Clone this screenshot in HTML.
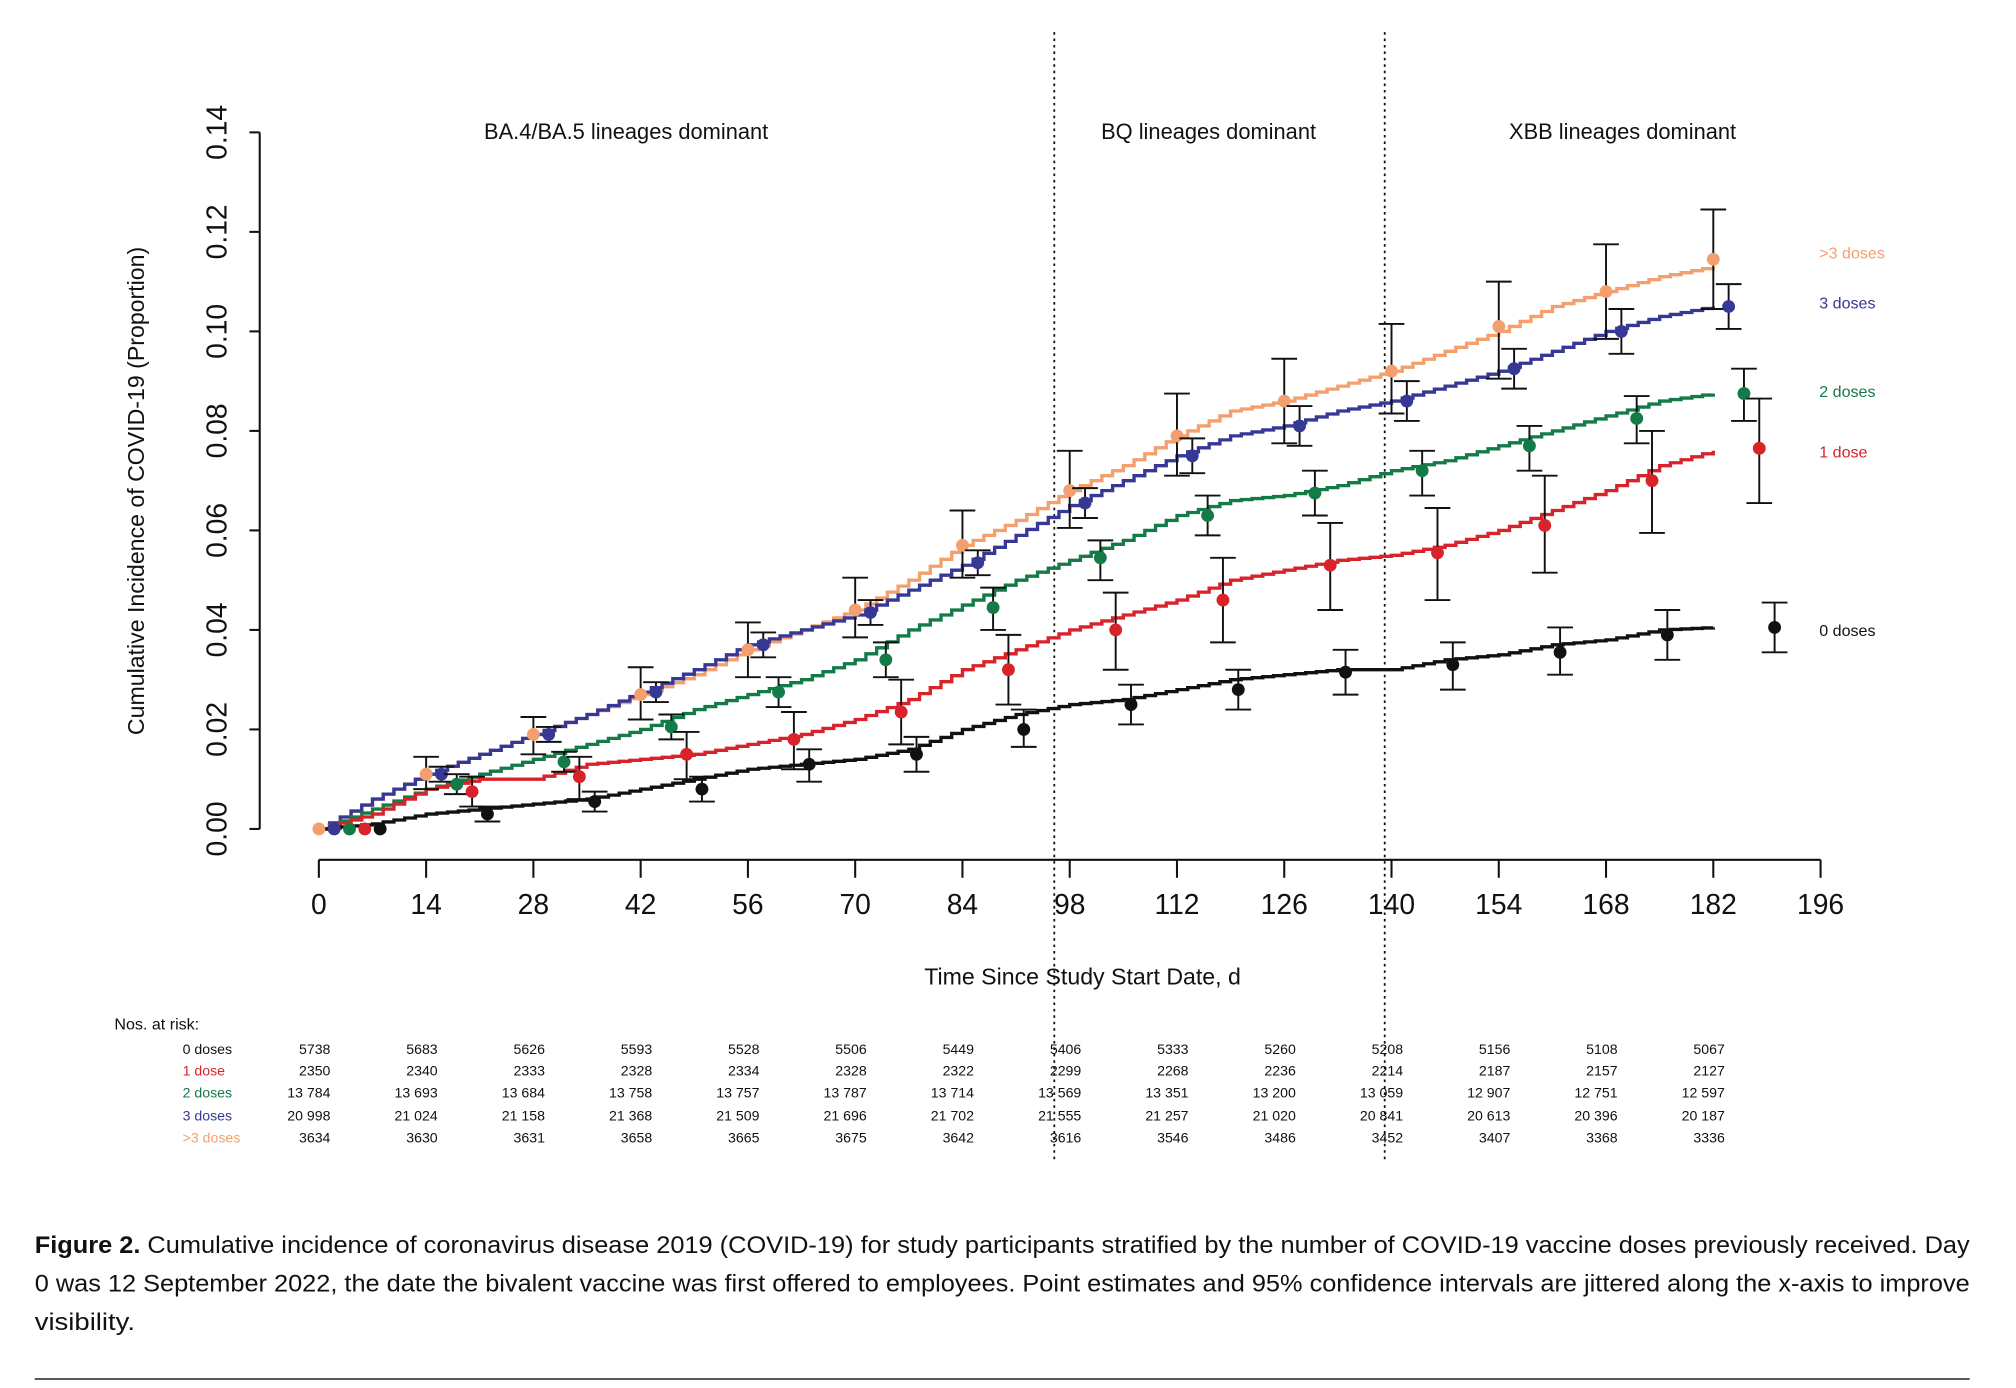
<!DOCTYPE html>
<html><head><meta charset="utf-8"><style>
html,body{margin:0;padding:0;background:#fff;}
svg{display:block;}
text{font-family:"Liberation Sans",sans-serif;}
.cap{font-family:"Liberation Sans Narrow","Liberation Sans",sans-serif;}
</style></head><body>
<svg id="chart" width="2016" height="1388" viewBox="0 0 1568 1080" preserveAspectRatio="none" xmlns="http://www.w3.org/2000/svg">
<rect x="0" y="0" width="1568" height="1080" fill="#fff"/>
<g id="axes"></g>
<g id="series"></g>
<g id="points"></g>
<g id="risk"></g>
<g class="cap" font-size="19" fill="#111">
<text class="cap" x="27" y="975" textLength="1505" lengthAdjust="spacingAndGlyphs"><tspan font-weight="bold">Figure 2.</tspan>    Cumulative incidence of coronavirus disease 2019 (COVID-19) for study participants stratified by the number of COVID-19 vaccine doses previously received. Day</text>
<text class="cap" x="27" y="1005" textLength="1505" lengthAdjust="spacingAndGlyphs">0 was 12 September 2022, the date the bivalent vaccine was first offered to employees. Point estimates and 95% confidence intervals are jittered along the x-axis to improve</text>
<text class="cap" x="27" y="1035" textLength="78" lengthAdjust="spacingAndGlyphs">visibility.</text>
</g>
<line x1="27" y1="1073" x2="1532" y2="1073" stroke="#222" stroke-width="1.2"/>
</svg>
<script>
const yTicks=[0,0.02,0.04,0.06,0.08,0.10,0.12,0.14];
const yTickLabels=["0.00","0.02","0.04","0.06","0.08","0.10","0.12","0.14"];
const xTicks=[0,14,28,42,56,70,84,98,112,126,140,154,168,182,196];
const curveDays=[0,7,14,21,28,35,42,49,56,63,70,77,84,91,98,105,112,119,126,133,140,147,154,161,168,175,182];
const curveOrange=[0,0.006,0.011,0.015,0.019,0.023,0.027,0.031,0.036,0.040,0.044,0.050,0.057,0.062,0.068,0.073,0.079,0.084,0.086,0.089,0.092,0.096,0.100,0.105,0.108,0.111,0.113];
const curveBlue=[0,0.006,0.011,0.015,0.019,0.023,0.0275,0.032,0.037,0.040,0.043,0.048,0.053,0.059,0.065,0.070,0.075,0.079,0.081,0.084,0.086,0.089,0.092,0.096,0.100,0.103,0.105];
const curveGreen=[0,0.004,0.008,0.011,0.014,0.017,0.020,0.024,0.027,0.030,0.034,0.040,0.045,0.050,0.054,0.058,0.063,0.066,0.067,0.069,0.072,0.074,0.077,0.080,0.083,0.086,0.0875];
const curveRed=[0,0.003,0.008,0.010,0.010,0.013,0.014,0.015,0.017,0.019,0.022,0.026,0.032,0.036,0.040,0.043,0.046,0.050,0.052,0.054,0.055,0.057,0.060,0.064,0.068,0.073,0.076];
const curveBlack=[0,0.001,0.003,0.004,0.005,0.006,0.008,0.010,0.012,0.013,0.014,0.016,0.020,0.023,0.025,0.026,0.028,0.030,0.031,0.032,0.032,0.034,0.035,0.037,0.038,0.040,0.0405];
const pointDays=[0,14,28,42,56,70,84,98,112,126,140,154,168,182];
const ptOrange=[0,0.011,0.019,0.027,0.036,0.044,0.057,0.068,0.079,0.086,0.092,0.101,0.108,0.1145];
const loOrange=[0,0.008,0.015,0.022,0.0305,0.0385,0.0505,0.0605,0.071,0.0775,0.0835,0.0905,0.0985,0.1045];
const hiOrange=[0,0.0145,0.0225,0.0325,0.0415,0.0505,0.064,0.076,0.0875,0.0945,0.1015,0.110,0.1175,0.1245];
const ptBlue=[0,0.011,0.019,0.0275,0.037,0.0435,0.0535,0.0655,0.075,0.081,0.086,0.0925,0.100,0.105];
const loBlue=[0,0.0095,0.0175,0.0255,0.0345,0.041,0.051,0.0625,0.0715,0.077,0.082,0.0885,0.0955,0.1005];
const hiBlue=[0,0.0125,0.0205,0.0295,0.0395,0.046,0.056,0.0685,0.0785,0.085,0.090,0.0965,0.1045,0.1095];
const ptGreen=[0,0.009,0.0135,0.0205,0.0275,0.034,0.0445,0.0545,0.063,0.0675,0.072,0.077,0.0825,0.0875];
const loGreen=[0,0.007,0.0115,0.018,0.0245,0.0305,0.040,0.050,0.059,0.063,0.067,0.072,0.0775,0.082];
const hiGreen=[0,0.011,0.0155,0.023,0.0305,0.0375,0.0485,0.058,0.067,0.072,0.076,0.081,0.087,0.0925];
const ptRed=[0,0.0075,0.0105,0.015,0.018,0.0235,0.032,0.040,0.046,0.053,0.0555,0.061,0.070,0.0765];
const loRed=[0,0.0045,0.006,0.010,0.012,0.017,0.025,0.032,0.0375,0.044,0.046,0.0515,0.0595,0.0655];
const hiRed=[0,0.0105,0.0145,0.0195,0.0235,0.030,0.039,0.0475,0.0545,0.0615,0.0645,0.071,0.080,0.0865];
const ptBlack=[0,0.003,0.0055,0.008,0.013,0.015,0.020,0.025,0.028,0.0315,0.033,0.0355,0.039,0.0405];
const loBlack=[0,0.0015,0.0035,0.0055,0.0095,0.0115,0.0165,0.021,0.024,0.027,0.028,0.031,0.034,0.0355];
const hiBlack=[0,0.0045,0.0075,0.0105,0.016,0.0185,0.024,0.029,0.032,0.036,0.0375,0.0405,0.044,0.0455];
const groupNames=["0 doses","1 dose","2 doses","3 doses",">3 doses"];
const riskCols=[0,14,28,42,56,70,84,98,112,126,140,154,168,182];
const risk0=["5738","5683","5626","5593","5528","5506","5449","5406","5333","5260","5208","5156","5108","5067"];
const risk1=["2350","2340","2333","2328","2334","2328","2322","2299","2268","2236","2214","2187","2157","2127"];
const risk2=["13 784","13 693","13 684","13 758","13 757","13 787","13 714","13 569","13 351","13 200","13 059","12 907","12 751","12 597"];
const risk3=["20 998","21 024","21 158","21 368","21 509","21 696","21 702","21 555","21 257","21 020","20 841","20 613","20 396","20 187"];
const risk4=["3634","3630","3631","3658","3665","3675","3642","3616","3546","3486","3452","3407","3368","3336"];

const NS="http://www.w3.org/2000/svg";
const X=d=>248+d*(1416-248)/196;
const Y=v=>645-v*(645-103)/0.14;
function mk(tag,attrs,parent,txt){const e=document.createElementNS(NS,tag);for(const k in attrs)e.setAttribute(k,attrs[k]);if(txt!==undefined)e.textContent=txt;parent.appendChild(e);return e;}
const axes=document.getElementById('axes'),series=document.getElementById('series'),pts=document.getElementById('points'),risk=document.getElementById('risk');

let ya=mk('line',{x1:202,y1:Y(0),x2:202,y2:Y(0.14),stroke:'#111','stroke-width':1.6},axes);


yTicks.forEach((t,i)=>{
 let tk=mk('line',{x1:194,y1:Y(t),x2:202,y2:Y(t),stroke:'#111','stroke-width':1.6},axes);
 
 
 let lb=mk('text',{x:0,y:0,transform:`translate(176,${Y(t)}) rotate(-90)`,'text-anchor':'middle','font-size':22,fill:'#111'},axes,yTickLabels[i]);
 
 
});
let yt=mk('text',{x:0,y:0,transform:'translate(112,382) rotate(-90)','text-anchor':'middle','font-size':18,fill:'#111'},axes,'Cumulative Incidence of COVID-19 (Proportion)');


let xa=mk('line',{x1:X(0),y1:669,x2:X(196),y2:669,stroke:'#111','stroke-width':1.6},axes);


xTicks.forEach(t=>{
 let tk=mk('line',{x1:X(t),y1:669,x2:X(t),y2:683,stroke:'#111','stroke-width':1.6},axes);
 
 
 let lb=mk('text',{x:X(t),y:711,'text-anchor':'middle','font-size':22,fill:'#111'},axes,String(t));
 
 
});
let xt=mk('text',{x:842,y:766,'text-anchor':'middle','font-size':18,fill:'#111'},axes,'Time Since Study Start Date, d');


[820,1077].forEach(x=>{
 let l=mk('line',{x1:x,y1:25,x2:x,y2:902,stroke:'#111','stroke-width':1.4,'stroke-dasharray':'2,3'},axes);
 
 
});
[["BA.4/BA.5 lineages dominant",487],["BQ lineages dominant",940],["XBB lineages dominant",1262]].forEach(p=>{
 let t=mk('text',{x:p[1],y:108,'text-anchor':'middle','font-size':17,fill:'#111'},axes,p[0]);
 
 
});

const colors=['#111','#d8232a','#147a46','#363895','#f4a06e'];
const curves=[curveBlack,curveRed,curveGreen,curveBlue,curveOrange];
const ptsArr=[ptBlack,ptRed,ptGreen,ptBlue,ptOrange];
const loArr=[loBlack,loRed,loGreen,loBlue,loOrange];
const hiArr=[hiBlack,hiRed,hiGreen,hiBlue,hiOrange];
const jitter=[8,6,4,2,0];
const labelY=[491,352,305,236,197];
const SUB=5; // rendering: fine staircase between read values
[4,3,2,1,0].forEach(g=>{
 const c=curves[g];let d=`M${X(curveDays[0])},${Y(c[0])}`;
 for(let i=1;i<curveDays.length;i++){
  const d0=curveDays[i-1],d1=curveDays[i],v0=c[i-1],v1=c[i];
  for(let s=1;s<=SUB;s++){
   d+=`H${X(d0+(d1-d0)*s/SUB)}V${Y(v0+(v1-v0)*s/SUB)}`;
  }
 }
 let p=mk('path',{d:d,fill:'none',stroke:colors[g],'stroke-width':2.6},series);
 
 
 let lb=mk('text',{x:1415,y:labelY[g]+4,'font-size':12.5,fill:colors[g]},series,groupNames[g]);
 
 
});
[4,3,2,1,0].forEach(g=>{
 pointDays.forEach((d,i)=>{
  const x=X(d+jitter[g]);
  const gg=mk('g',{},pts);
  
  
  if(hiArr[g][i]>loArr[g][i]){
   mk('line',{x1:x,y1:Y(loArr[g][i]),x2:x,y2:Y(hiArr[g][i]),stroke:'#111','stroke-width':1.5},gg);
   mk('line',{x1:x-10,y1:Y(loArr[g][i]),x2:x+10,y2:Y(loArr[g][i]),stroke:'#111','stroke-width':1.5},gg);
   mk('line',{x1:x-10,y1:Y(hiArr[g][i]),x2:x+10,y2:Y(hiArr[g][i]),stroke:'#111','stroke-width':1.5},gg);
  }
  mk('circle',{cx:x,cy:Y(ptsArr[g][i]),r:5,fill:colors[g]},gg);
 });
});
let nr=mk('text',{x:89,y:801,'font-size':12.5,fill:'#111'},risk,'Nos. at risk:');


const riskRows=[risk0,risk1,risk2,risk3,risk4];
const rowY=[820,837,854,872,889];
riskRows.forEach((row,g)=>{
 let lb=mk('text',{x:142,y:rowY[g],'font-size':11,fill:colors[g]},risk,groupNames[g]);
 
 
 row.forEach((v,i)=>{
  let t=mk('text',{x:X(riskCols[i])+9,y:rowY[g],'text-anchor':'end','font-size':11,fill:'#111'},risk,v);
  
  
 });
});
</script>
</body></html>
